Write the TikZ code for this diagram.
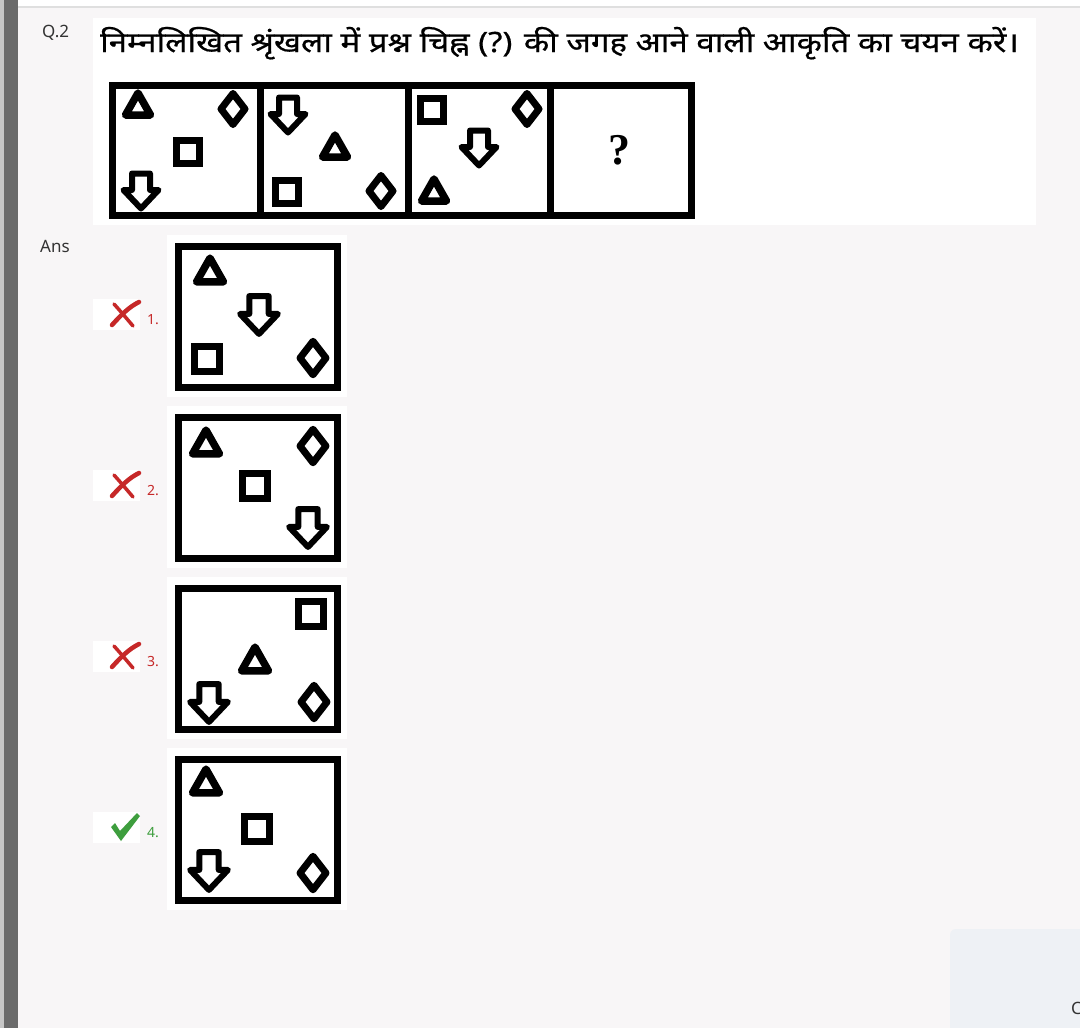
\documentclass[tikz,border=0pt]{standalone}
\usepackage{fontspec}
\setmainfont{Noto Sans}
\newfontfamily\hindifont[Script=Devanagari,FakeStretch=1.18,FakeBold=0.6]{Noto Sans}
\newfontfamily\serifq{Liberation Serif}
\usetikzlibrary{calc}

\definecolor{pagebg}{HTML}{F8F6F7}
\definecolor{barcol}{HTML}{6B6B6B}
\definecolor{wrongred}{HTML}{C62828}
\definecolor{rightgreen}{HTML}{3E9E3E}
\definecolor{cardbg}{HTML}{EEF1F5}
\definecolor{txt}{HTML}{333333}

\tikzset{
  fig/.style={line width=7pt, line join=round},
  frame/.style={line width=7pt},
  pics/tri/.style={code={\draw[fig,line width=7.5pt] (0,-11) -- (12.5,11) -- (-12.5,11) -- cycle;}},
  pics/dia/.style={code={\draw[fig] (0,-15.5) -- (12,0) -- (0,15.5) -- (-12,0) -- cycle;}},
  pics/sq/.style={code={\draw[fig,line join=miter] (-11.5,-11.5) rectangle (11.5,11.5);}},
  pics/arr/.style={code={\draw[fig,line width=6pt] (-9,-17.5) -- (9,-17.5) -- (9,-1) -- (17.5,-1) -- (0,17.5) -- (-17.5,-1) -- (-9,-1) -- cycle;}},
  pics/wrong/.style={code={
    \draw[wrongred,line width=4.5pt,line cap=round] (-13,11) .. controls (-4,1) and (4,-7) .. (14,-12);
    \draw[wrongred,line width=3.5pt,line cap=round] (-11,-10) .. controls (-3,-1) .. (8,12);}},
  pics/right/.style={code={
    \fill[rightgreen] (-14,0) -- (-10,-4) -- (-5,4) -- (12,-14) -- (15,-11) -- (-4,14) -- cycle;}},
  lab/.style={anchor=base west, inner sep=0pt, font=\fontsize{14}{16}\selectfont},
  head/.style={anchor=base west, inner sep=0pt, text=txt, font=\fontsize{17}{20}\selectfont}
}

\begin{document}
\begin{tikzpicture}[x=1pt,y=-1pt]
        \useasboundingbox (0,0) rectangle (1080,1028);
        % Page background
        \fill[pagebg] (0,0) rectangle (1080,1028);
        \fill[white] (18,0) rectangle (1080,6);
        \draw[gray!25,line width=1.5pt] (18,7) -- (1080,7);
        \fill[gray!45] (0,0) rectangle (4,1028);
        \fill[barcol] (4,0) rectangle (18,1028);
        
        % Question text
        \node[head] (qno) at (42,37) {Q.2};
        \fill[white] (93,18) rectangle (1036,225);
        \node[anchor=base west, inner sep=0pt] (title) at (100,52)
            {\hindifont\fontsize{28}{32}\selectfont निम्नलिखित श्रृंखला में प्रश्न चिह्न (?) की जगह आने वाली आकृति का चयन करें।};
        
        % Draw the question strip
        \draw[frame] (112.5,85.5) rectangle (691.5,215.5);
        \foreach \x in {260.5,408,550} {
            \draw[frame] (\x,85.5) -- (\x,215.5);
        }
        \foreach \shp/\x/\y in {tri/138/104, dia/233/109, sq/188/152, arr/141/191,
                                arr/288/115, tri/335/146, sq/287/192, dia/381/191,
                                sq/432/110, dia/527/109, arr/479/148, tri/434/190} {
            \pic at (\x,\y) {\shp};
        }
        \node[font=\serifq\bfseries\fontsize{44}{46}\selectfont] (qmark) at (619,150) {?};
        
        % Answer options
        \node[head] (ans) at (40,252) {Ans};
        \foreach \i/\mk/\col in {0/wrong/wrongred, 1/wrong/wrongred, 2/wrong/wrongred, 3/right/rightgreen} {
            \begin{scope}[shift={(0,171*\i)}]
                \fill[white] (167,235) rectangle (347,397);
                \fill[white] (93,299) rectangle (140,330);
                \draw[frame] (178.5,246.5) rectangle (337.5,387.5);
                \pic at (125,314) {\mk};
                \pgfmathtruncatemacro{\n}{\i+1}
                \node[lab, text=\col] (opt\n) at (147,324) {\n.};
            \end{scope}
        }
        \foreach \shp/\x/\y in {tri/210/270, arr/259/315, sq/207/359, dia/313/358,
                                tri/206/442, dia/313/446, sq/255/486, arr/308/528,
                                sq/311/614, tri/255/659, arr/209/703, dia/314/702,
                                tri/206/781, sq/257/829, arr/209/871, dia/313/873} {
            \pic[scale=1.08] at (\x,\y) {\shp};
        }
        
        % Card in the corner
        \fill[cardbg, rounded corners=6pt] (950,929) rectangle (1100,1050);
        \node[head] (more) at (1071,1014) {C};
    \end{tikzpicture}
\end{document}
